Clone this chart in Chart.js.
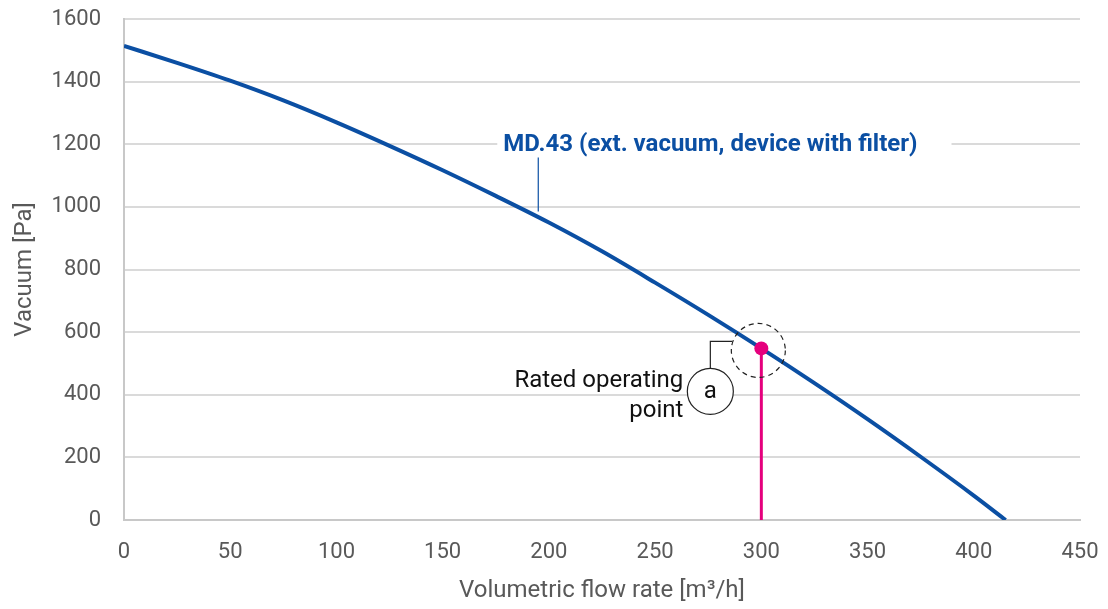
<!DOCTYPE html>
<html>
<head>
<meta charset="utf-8">
<script src="https://cdn.jsdelivr.net/npm/chart.js@4/dist/chart.umd.min.js"></script>
<style>
  body { margin: 0; background: #fff; }
  canvas { display: block; }
</style>
</head>
<body>
<canvas id="chart" width="1108" height="609"></canvas>
<script>
// curve
const flowRates = [0, 25, 50, 75, 100, 125, 150, 175, 200, 225, 250, 275, 300, 325, 350, 375, 400, 415];
const vacuum = [1514, 1460, 1403, 1340, 1270, 1195, 1117, 1035, 950, 858, 758, 655, 548, 437, 322, 202, 78, 0];

const xTicks = [0, 50, 100, 150, 200, 250, 300, 350, 400, 450];
const yTicks = [0, 200, 400, 600, 800, 1000, 1200, 1400, 1600];

const seriesName = "MD.43 (ext. vacuum, device with filter)";
const labelAnchor = [195, 985];   // where the leader touches the curve
const opPoint = [300, 548];       // rated operating point
const opText = ["Rated operating", "point"];

const blue = "#0b4fa3";
const magenta = "#e5007d";
const grey = "#595959";
const font = "Roboto, 'Liberation Sans', sans-serif";

const annotations = {
  id: "annotations",
  afterDatasetsDraw(chart) {
    const ctx = chart.ctx;
    const x = chart.scales.x, y = chart.scales.y;

    // series label with leader
    const ax = x.getPixelForValue(labelAnchor[0]);
    const ay = y.getPixelForValue(labelAnchor[1]);
    ctx.save();
    ctx.font = "bold 24px " + font;
    const tw = ctx.measureText(seriesName).width;
    const tx = ax - 35, ty = ay - 67;
    ctx.fillStyle = "#fff";
    ctx.fillRect(tx - 6, ty - 14, tw + 40, 26);
    ctx.fillStyle = blue;
    ctx.textBaseline = "middle";
    ctx.fillText(seriesName, tx, ty);
    ctx.strokeStyle = blue;
    ctx.lineWidth = 1.2;
    ctx.beginPath();
    ctx.moveTo(ax, ay - 54);
    ctx.lineTo(ax, ay);
    ctx.stroke();
    ctx.restore();

    // operating point callout
    const px = x.getPixelForValue(opPoint[0]);
    const py = y.getPixelForValue(opPoint[1]);
    ctx.save();
    ctx.strokeStyle = "#222";
    ctx.lineWidth = 1.2;
    ctx.setLineDash([5, 4]);
    ctx.beginPath();
    ctx.arc(px - 3, py + 2, 27, 0, Math.PI * 2);
    ctx.stroke();
    ctx.setLineDash([]);

    const cx = px - 51, cy = py + 43;
    ctx.beginPath();
    ctx.moveTo(px - 29, py - 7);
    ctx.lineTo(cx, py - 7);
    ctx.lineTo(cx, cy - 23);
    ctx.stroke();
    ctx.beginPath();
    ctx.arc(cx, cy, 23, 0, Math.PI * 2);
    ctx.fillStyle = "#fff";
    ctx.fill();
    ctx.stroke();

    ctx.fillStyle = "#111";
    ctx.font = "24px " + font;
    ctx.textAlign = "center";
    ctx.textBaseline = "middle";
    ctx.fillText("a", cx, cy + 1);

    ctx.textAlign = "right";
    ctx.fillText(opText[0], px - 78, py + 33);
    ctx.fillText(opText[1], px - 78, py + 63);
    ctx.restore();
  }
};

new Chart(document.getElementById("chart"), {
  type: "scatter",
  data: {
    datasets: [
      {
        data: [{ x: opPoint[0], y: opPoint[1] }],
        pointRadius: 7,
        pointBackgroundColor: magenta,
        pointBorderWidth: 0,
        order: 0
      },
      {
        data: flowRates.map((f, i) => ({ x: f, y: vacuum[i] })),
        showLine: true,
        borderColor: blue,
        borderWidth: 4,
        pointRadius: 0,
        cubicInterpolationMode: "monotone",
        order: 1
      },
      {
        data: [{ x: opPoint[0], y: 0 }, { x: opPoint[0], y: opPoint[1] }],
        showLine: true,
        borderColor: magenta,
        borderWidth: 3,
        pointRadius: 0,
        order: 2
      }
    ]
  },
  options: {
    responsive: false,
    animation: false,
    layout: { padding: { top: 19, right: 28, left: 0, bottom: 0 } },
    plugins: { legend: { display: false }, tooltip: { enabled: false } },
    scales: {
      x: {
        type: "linear",
        min: 0,
        max: 450,
        afterBuildTicks: (s) => { s.ticks = xTicks.map(v => ({ value: v })); },
        afterFit: (s) => { s.height = 89; s.paddingLeft = 0; s.paddingRight = 0; },
        grid: { display: false, drawTicks: false },
        border: { display: true, color: "#c8c8c8", width: 2 },
        ticks: { color: grey, font: { family: font, size: 22 }, padding: 19, callback: (v) => String(v) },
        title: {
          display: true,
          text: "Volumetric flow rate [m³/h]",
          color: grey,
          font: { family: font, size: 24 },
          padding: { top: 0, bottom: 4 }
        }
      },
      y: {
        min: 0,
        max: 1600,
        afterBuildTicks: (s) => { s.ticks = yTicks.map(v => ({ value: v })); },
        afterFit: (s) => { s.width = 124; s.paddingTop = 0; s.paddingBottom = 0; },
        grid: { color: "#dadada", lineWidth: 2, drawTicks: false },
        border: { display: true, color: "#c8c8c8", width: 2 },
        ticks: { color: grey, font: { family: font, size: 22 }, padding: 23, callback: (v) => String(v) },
        title: {
          display: true,
          text: "Vacuum [Pa]",
          color: grey,
          font: { family: font, size: 24 },
          padding: { top: 11, bottom: 0 }
        }
      }
    }
  },
  plugins: [annotations]
});
</script>
</body>
</html>
